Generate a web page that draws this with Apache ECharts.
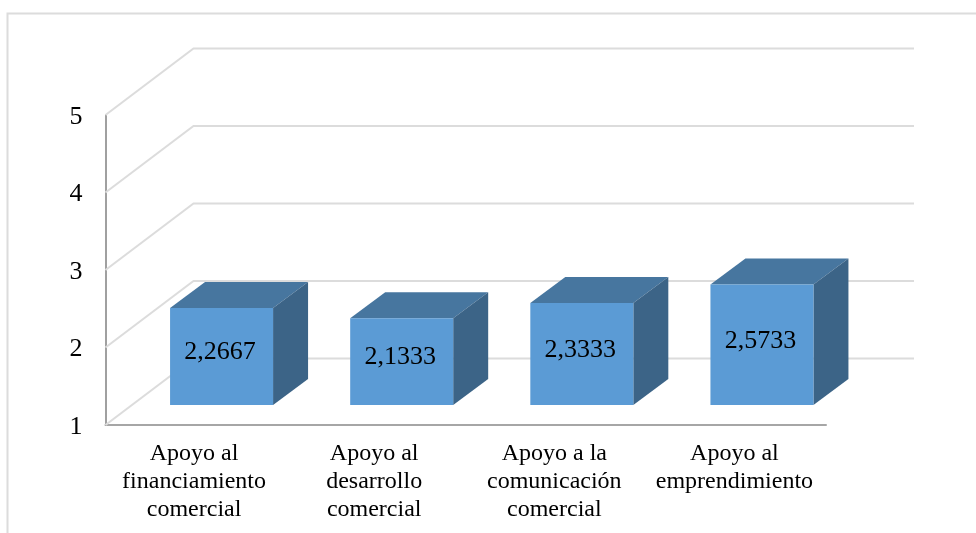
<!DOCTYPE html>
<html>
<head>
<meta charset="utf-8">
<style>
    html, body { margin: 0; padding: 0; background: #fff; }
    #chart { width: 976px; height: 533px; }
</style>
<script src="https://cdn.jsdelivr.net/npm/echarts@6/dist/echarts.min.js"></script>
</head>
<body>
<div id="chart"></div>
<script>
var categories = [
    'Apoyo al\nfinanciamiento\ncomercial',
    'Apoyo al\ndesarrollo\ncomercial',
    'Apoyo a la\ncomunicación\ncomercial',
    'Apoyo al\nemprendimiento\n '
];
var values = [2.2667, 2.1333, 2.3333, 2.5733];
var yTicks = [1, 2, 3, 4, 5];

var FONT = '"Liberation Serif", "Times New Roman", serif';
// pseudo 3d offsets, in pixels
var WALL_DX = 88, WALL_DY = -66.5;
var BAR_DX = 26, BAR_DY = -20;
var DEPTH_DX = 35, DEPTH_DY = -26;
var BAR_W = 103;
var BAR_SCALE = 0.988;

var myChart = echarts.init(document.getElementById('chart'));

function renderWall(params, api) {
    var p = api.coord([0, api.value(1)]);
    var x0 = params.coordSys.x;
    var x1 = x0 + params.coordSys.width;
    return {
        type: 'polyline',
        shape: { points: [[x0, p[1]], [x0 + WALL_DX, p[1] + WALL_DY], [x1 + WALL_DX, p[1] + WALL_DY]] },
        style: { fill: null, stroke: '#dcdcdc', lineWidth: 2 }
    };
}

function renderBar(params, api) {
    var base = api.coord([api.value(0), 1]);
    var top = api.coord([api.value(0), api.value(1)]);
    var h = (base[1] - top[1]) * BAR_SCALE;
    var x0 = base[0] + BAR_DX - BAR_W / 2;
    var x1 = x0 + BAR_W;
    var y1 = base[1] + BAR_DY;
    var y0 = y1 - h;
    return {
        type: 'group',
        children: [
            {
                type: 'polygon',
                shape: { points: [[x0, y0], [x1, y0], [x1 + DEPTH_DX, y0 + DEPTH_DY], [x0 + DEPTH_DX, y0 + DEPTH_DY]] },
                style: { fill: '#47769f' }
            },
            {
                type: 'polygon',
                shape: { points: [[x1, y0], [x1 + DEPTH_DX, y0 + DEPTH_DY], [x1 + DEPTH_DX, y1 + DEPTH_DY], [x1, y1]] },
                style: { fill: '#3c6487' }
            },
            {
                type: 'rect',
                shape: { x: x0, y: y0, width: BAR_W, height: h },
                style: { fill: '#5b9bd5' }
            },
            {
                type: 'text',
                style: {
                    x: (x0 + x1) / 2 - 1.5,
                    y: (y0 + y1) / 2 - 4,
                    text: String(api.value(1)).replace('.', ','),
                    font: '26px ' + FONT,
                    fill: '#000',
                    align: 'center',
                    verticalAlign: 'middle'
                }
            }
        ]
    };
}

var option = {
    animation: false,
    backgroundColor: '#fff',
    grid: { left: 105.5, top: 115, width: 720.5, height: 310 },
    xAxis: {
        type: 'category',
        data: categories,
        axisTick: { show: false },
        axisLine: { lineStyle: { color: '#a6a6a6', width: 2 } },
        axisLabel: {
            interval: 0,
            margin: 15,
            padding: [0, 3, 0, 0],
            color: '#000',
            fontFamily: FONT,
            fontSize: 24,
            lineHeight: 28
        }
    },
    yAxis: {
        type: 'value',
        min: 1,
        max: 5,
        interval: 1,
        splitLine: { show: false },
        axisTick: { show: false },
        axisLine: { show: true, lineStyle: { color: '#a0a0a0', width: 2 } },
        axisLabel: {
            margin: 23,
            formatter: '{n|{value}}',
            rich: {
                n: {
                    padding: [4, 0, 0, 0],
                    color: '#000',
                    fontFamily: FONT,
                    fontSize: 26
                }
            }
        }
    },
    graphic: [
        {
            type: 'polyline',
            silent: true,
            shape: { points: [[7.5, 533], [7.5, 13.5], [976, 13.5]] },
            style: { fill: null, stroke: '#dcdcdc', lineWidth: 2 }
        }
    ],
    series: [
        {
            type: 'custom',
            clip: false,
            silent: true,
            z: 1,
            renderItem: renderWall,
            data: yTicks.map(function (t) { return [0, t]; })
        },
        {
            type: 'custom',
            clip: false,
            z: 3,
            renderItem: renderBar,
            encode: { x: 0, y: 1 },
            data: values.map(function (v, i) { return [i, v]; })
        }
    ]
};
myChart.setOption(option);
window.addEventListener('resize', function () {
    myChart.resize();
});
</script>
</body>
</html>
